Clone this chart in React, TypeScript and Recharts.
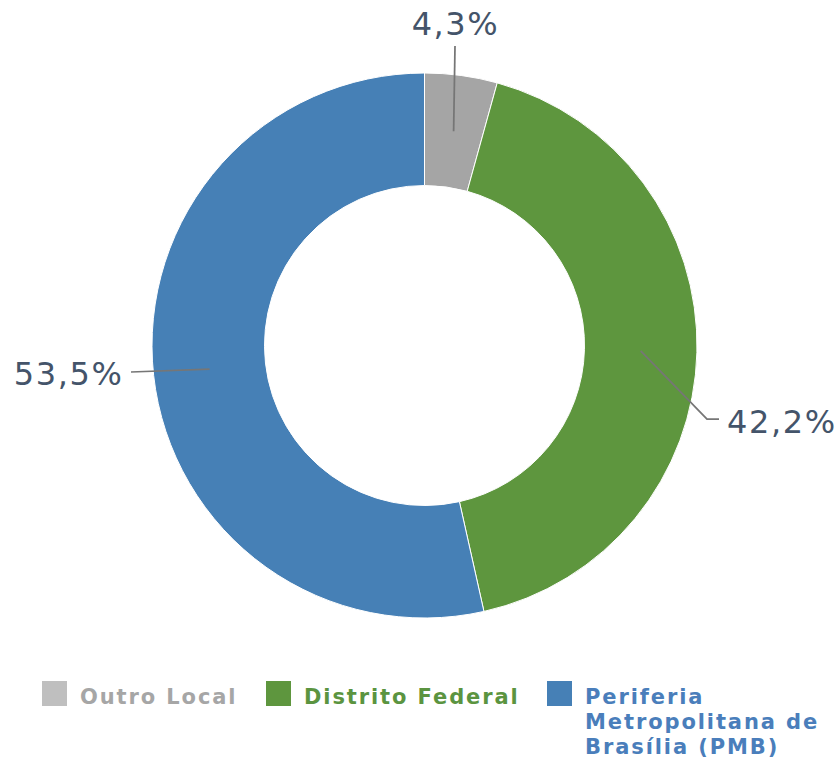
import React from 'react';
import { PieChart, Pie, Cell, Legend } from 'recharts';

const categories = ['Outro Local', 'Distrito Federal', 'Periferia Metropolitana de Brasília (PMB)'];
const legendLines = [['Outro Local'], ['Distrito Federal'], ['Periferia', 'Metropolitana de', 'Brasília (PMB)']];
const values = [4.3, 42.2, 53.5];

const sliceColors = ['#A5A5A5', '#5E963E', '#4680B6'];
const legendSwatch = ['#BFBFBF', '#5E963E', '#4680B6'];
const legendText = ['#A6A6A6', '#5B9440', '#4A7EBB'];

const data = categories.map((name, i) => ({ name, value: values[i] }));

// label layout offsets relative to pie center (leader line end, elbow, text pos)
const labelLayout = [
  { elbow: null as null | [number, number], end: [30.5, -299.5], text: [31, -310.5], anchor: 'middle' },
  { elbow: [282.5, 73.5] as [number, number], end: [294.5, 73.5], text: [302.5, 87.5], anchor: 'start' },
  { elbow: null as null | [number, number], end: [-293.5, 26.5], text: [-301, 39.5], anchor: 'end' },
];

const RAD = Math.PI / 180;
const FONT = '"DejaVu Sans", Verdana, sans-serif';

const renderLabel = (props: any) => {
  const { cx, cy, midAngle, innerRadius, outerRadius, index, value } = props;
  const r = (innerRadius + outerRadius) / 2;
  const sx = cx + Math.cos(-midAngle * RAD) * r;
  const sy = cy + Math.sin(-midAngle * RAD) * r;
  const L = labelLayout[index];
  const pts: [number, number][] = [[sx, sy]];
  if (L.elbow) pts.push([cx + L.elbow[0], cy + L.elbow[1]]);
  pts.push([cx + L.end[0], cy + L.end[1]]);
  const txt = String(value).replace('.', ',') + '%';
  return (
    <g key={`lbl-${index}`}>
      <polyline points={pts.map((p) => p.join(',')).join(' ')} fill="none" stroke="#767676" strokeWidth={1.75} />
      <text
        x={cx + L.text[0]}
        y={cy + L.text[1]}
        textAnchor={L.anchor as any}
        fill="#44546A"
        fontSize={32}
        letterSpacing={1.6}
        fontFamily={FONT}
      >
        {txt}
      </text>
    </g>
  );
};

const legendPos = [42, 266, 547];

const renderLegend = () => (
  <div style={{ position: 'relative', width: 839, height: 91 }}>
    {categories.map((c, i) => (
      <div key={c} style={{ position: 'absolute', left: legendPos[i], top: 11 }}>
        <div style={{ position: 'absolute', left: 0, top: 0, width: 25, height: 25, background: legendSwatch[i] }} />
        <div
          style={{
            position: 'absolute',
            left: 38,
            top: 4,
            whiteSpace: 'nowrap',
            fontFamily: FONT,
            fontWeight: 'bold',
            fontSize: 21,
            letterSpacing: '1.9px',
            lineHeight: '25px',
            color: legendText[i],
          }}
        >
          {legendLines[i].map((l) => (
            <div key={l}>{l}</div>
          ))}
        </div>
      </div>
    ))}
  </div>
);

export default function App() {
  return (
    <div style={{ position: 'absolute', left: 0, top: 0, width: 839, height: 761, background: '#fff' }}>
      <PieChart width={839} height={761} margin={{ top: 0, right: 0, bottom: 0, left: 0 }}>
        <Pie
          data={data}
          dataKey="value"
          nameKey="name"
          cx={424.5}
          cy={345.5}
          innerRadius={160}
          outerRadius={272.5}
          startAngle={90}
          endAngle={-270}
          stroke="#FFFFFF"
          strokeWidth={1}
          label={renderLabel}
          labelLine={false}
          isAnimationActive={false}
        >
          {data.map((d, i) => (
            <Cell key={d.name} fill={sliceColors[i]} />
          ))}
        </Pie>
        <Legend
          content={renderLegend}
          wrapperStyle={{ position: 'absolute', left: 0, top: 670, width: 839, height: 91 }}
        />
      </PieChart>
    </div>
  );
}
